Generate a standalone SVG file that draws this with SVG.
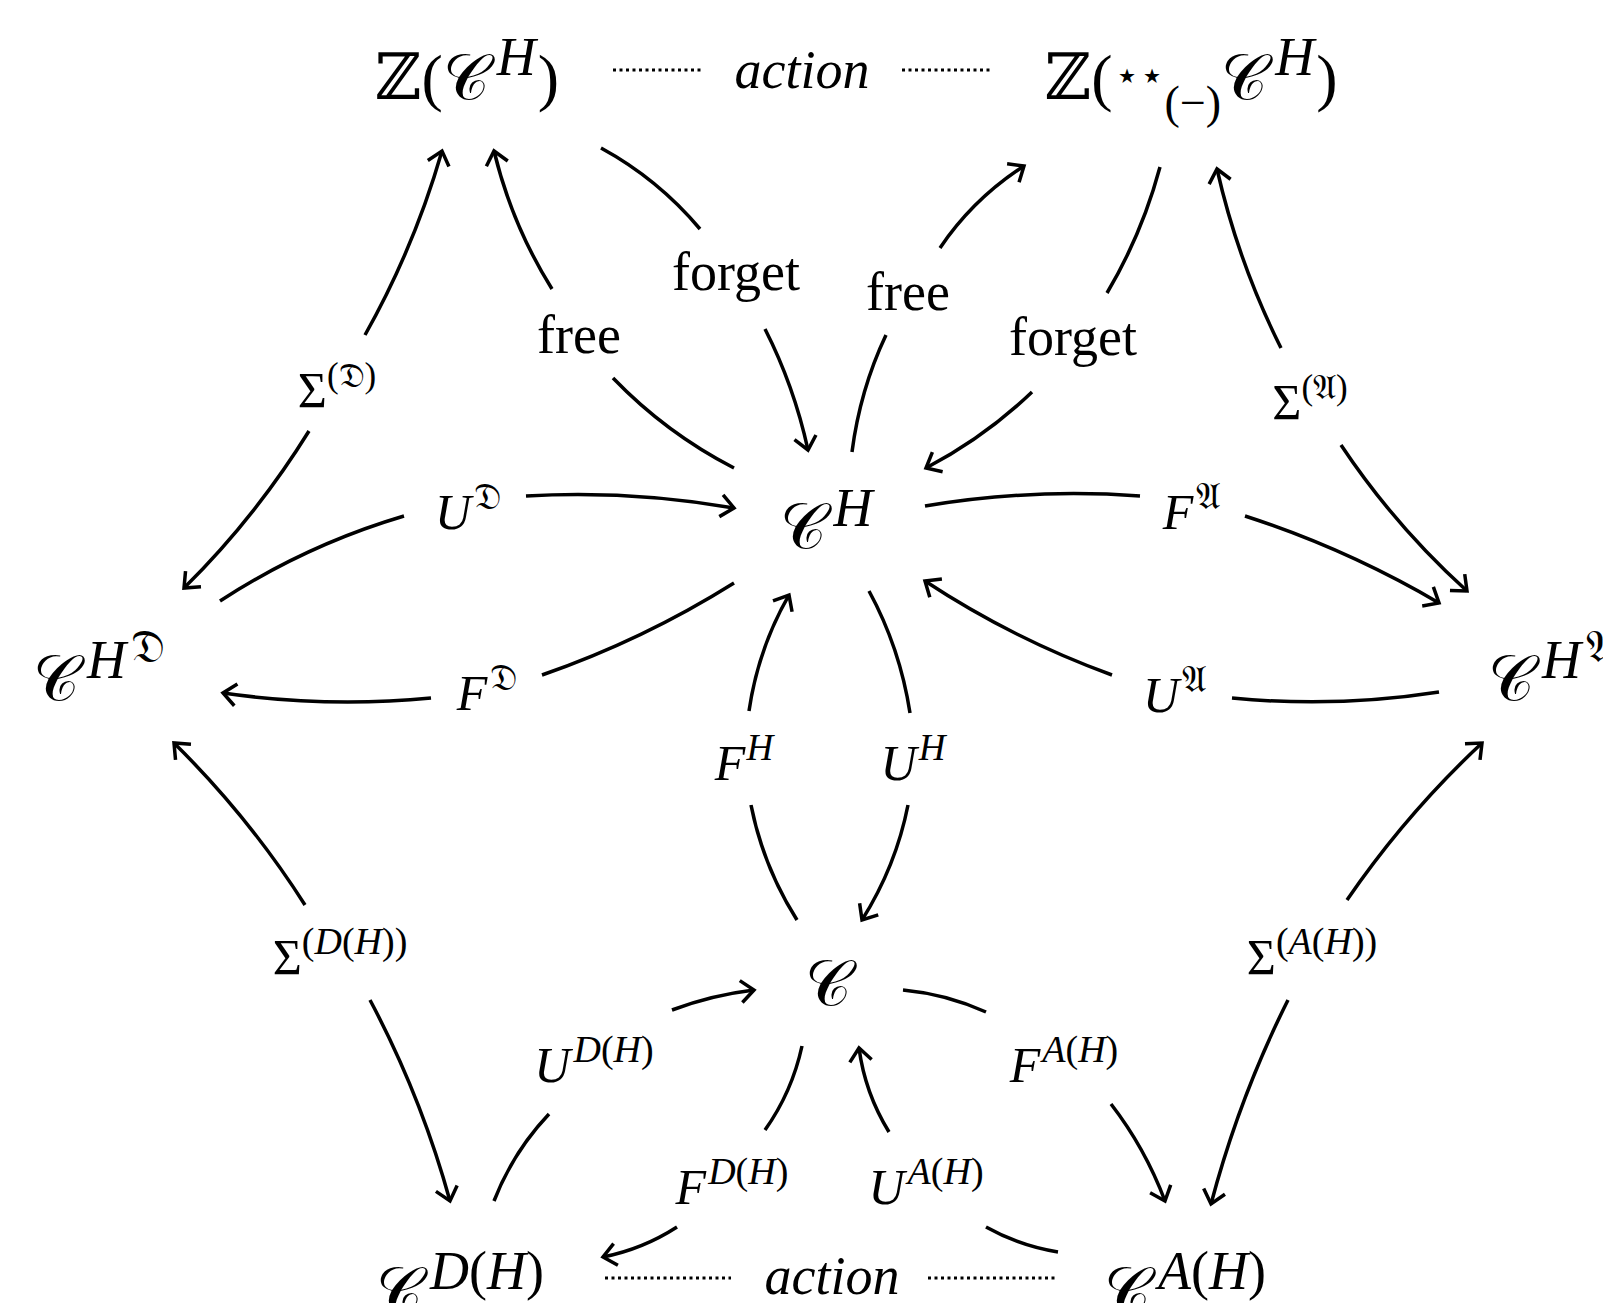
<svg xmlns="http://www.w3.org/2000/svg" width="1603" height="1303" viewBox="0 0 1603 1303">
<style>
text{font-family:"Liberation Serif","DejaVu Serif","DejaVu Sans","Noto Sans",serif;fill:#000}
.n{font-size:64px}
.l{font-size:54px}
.m{font-size:50px}
.i{font-style:italic}
.e{fill:none;stroke:#000;stroke-width:3.5}
.a{marker-end:url(#ah)}
.d{fill:none;stroke:#000;stroke-width:3;stroke-dasharray:3 3.5}
</style>
<defs>
<marker id="ah" viewBox="-16 -15 22 30" markerWidth="22" markerHeight="30" refX="0" refY="0" orient="auto" markerUnits="userSpaceOnUse">
<path d="M-13,-11 L0,0 L-13,11" fill="none" stroke="#000" stroke-width="3.5"/>
</marker>
</defs>
<g id="connectors">
<g id="e-sigmaD"><path class="e a" d="M365,335 Q414,248 442,151"/><path class="e a" d="M309,431 Q255,518 184,588"/>
<text class="m" x="337" y="407" text-anchor="middle" font-size="45">Σ<tspan font-size="35" dy="-20">(𝔇)</tspan></text></g>
<g id="e-free1"><path class="e" d="M734,468 Q666,433 613,378"/><path class="e a" d="M552,289 Q512,225 494,151"/>
<text class="l" x="579" y="353" text-anchor="middle">free</text></g>
<g id="e-forget1"><path class="e" d="M601,148 Q658,179 700,229"/><path class="e a" d="M765,329 Q794,386 808,450"/>
<text class="l" x="736" y="290" text-anchor="middle">forget</text></g>
<g id="e-free2"><path class="e" d="M852,452 Q860,390 886,335"/><path class="e a" d="M940,248 Q973,199 1024,166"/>
<text class="l" x="908" y="310" text-anchor="middle">free</text></g>
<g id="e-forget2"><path class="e" d="M1160,167 Q1142,234 1107,293"/><path class="e a" d="M1032,392 Q985,437 926,468"/>
<text class="l" x="1073" y="355" text-anchor="middle">forget</text></g>
<g id="e-sigmaA"><path class="e a" d="M1281,348 Q1238,262 1217,169"/><path class="e a" d="M1341,445 Q1395,526 1467,591"/>
<text class="m" x="1310" y="419" text-anchor="middle" font-size="45">Σ<tspan font-size="35" dy="-20">(𝔄)</tspan></text></g>
<g id="e-UD"><path class="e" d="M220,601 Q306,545 404,516"/><path class="e a" d="M526,496 Q630,490 734,508"/>
<text class="m" x="468" y="529" text-anchor="middle"><tspan class="i">U</tspan><tspan font-size="37" dx="3" dy="-20">𝔇</tspan></text></g>
<g id="e-FD"><path class="e" d="M734,583 Q643,640 542,675"/><path class="e a" d="M431,698 Q327,708 223,693"/>
<text class="m" x="487" y="710" text-anchor="middle"><tspan class="i">F</tspan><tspan font-size="37" dx="3" dy="-20">𝔇</tspan></text></g>
<g id="e-FA"><path class="e" d="M925,506 Q1032,488 1140,496"/><path class="e a" d="M1245,516 Q1347,549 1439,603"/>
<text class="m" x="1192" y="529" text-anchor="middle"><tspan class="i">F</tspan><tspan font-size="37" dx="3" dy="-20">𝔄</tspan></text></g>
<g id="e-UA"><path class="e" d="M1439,692 Q1336,708 1232,698"/><path class="e a" d="M1112,675 Q1013,639 925,581"/>
<text class="m" x="1175" y="712" text-anchor="middle"><tspan class="i">U</tspan><tspan font-size="37" dx="3" dy="-20">𝔄</tspan></text></g>
<g id="e-FH"><path class="e" d="M797,920 Q763,866 751,805"/><path class="e a" d="M749,711 Q758,649 789,595"/>
<text class="m i" x="744" y="780" text-anchor="middle">F<tspan font-size="37" dx="1" dy="-20">H</tspan></text></g>
<g id="e-UH"><path class="e" d="M869,591 Q900,648 910,713"/><path class="e a" d="M908,805 Q896,866 862,920"/>
<text class="m i" x="913" y="780" text-anchor="middle">U<tspan font-size="37" dx="2" dy="-20">H</tspan></text></g>
<g id="e-sigmaDH"><path class="e a" d="M305,905 Q249,817 174,743"/><path class="e a" d="M370,1000 Q421,1096 450,1201"/>
<text class="m" x="340" y="974" text-anchor="middle" font-size="45">Σ<tspan font-size="38" dy="-20">(<tspan class="i">D</tspan>(<tspan class="i">H</tspan>))</tspan></text></g>
<g id="e-sigmaAH"><path class="e a" d="M1347,900 Q1406,814 1482,743"/><path class="e a" d="M1288,1000 Q1239,1098 1211,1204"/>
<text class="m" x="1312" y="974" text-anchor="middle" font-size="45">Σ<tspan font-size="38" dy="-20">(<tspan class="i">A</tspan>(<tspan class="i">H</tspan>))</tspan></text></g>
<g id="e-UDH"><path class="e" d="M494,1201 Q513,1152 549,1114"/><path class="e a" d="M672,1010 Q712,995 754,990"/>
<text class="m" x="594" y="1082" text-anchor="middle"><tspan class="i">U</tspan><tspan font-size="38" dx="3" dy="-20"><tspan class="i">D</tspan>(<tspan class="i">H</tspan>)</tspan></text></g>
<g id="e-FDH"><path class="e" d="M802,1046 Q792,1092 765,1130"/><path class="e a" d="M677,1227 Q643,1249 603,1257"/>
<text class="m" x="732" y="1204" text-anchor="middle"><tspan class="i">F</tspan><tspan font-size="38" dx="2" dy="-20"><tspan class="i">D</tspan>(<tspan class="i">H</tspan>)</tspan></text></g>
<g id="e-UAH"><path class="e" d="M1058,1252 Q1020,1246 986,1227"/><path class="e a" d="M889,1132 Q865,1093 859,1048"/>
<text class="m" x="926" y="1204" text-anchor="middle"><tspan class="i">U</tspan><tspan font-size="38" dx="3" dy="-20"><tspan class="i">A</tspan>(<tspan class="i">H</tspan>)</tspan></text></g>
<g id="e-FAH"><path class="e" d="M903,990 Q946,994 986,1012"/><path class="e a" d="M1111,1104 Q1145,1148 1165,1201"/>
<text class="m" x="1064" y="1082" text-anchor="middle"><tspan class="i">F</tspan><tspan font-size="38" dx="2" dy="-20"><tspan class="i">A</tspan>(<tspan class="i">H</tspan>)</tspan></text></g>
<g id="e-action-top"><path class="d" d="M613,70 H703 M902,70 H992"/>
<text class="l i" x="802" y="88" text-anchor="middle" font-size="58">action</text></g>
<g id="e-action-bottom"><path class="d" d="M605,1278 H731 M928,1278 H1058"/>
<text class="l i" x="832" y="1294" text-anchor="middle" font-size="58">action</text></g>
</g>
<g id="node-ZCH"><text class="n" x="467" y="99" text-anchor="middle">ℤ(𝒞<tspan class="i" font-size="54" dx="7" dy="-24">H</tspan><tspan dx="2" dy="24">)</tspan></text></g>
<g id="node-ZstarCH"><text class="n" x="1191" y="99" text-anchor="middle">ℤ(<tspan font-size="40" dx="2" dy="-10">⋆⋆</tspan><tspan font-size="46" dy="29">(−)</tspan><tspan dy="-19">𝒞</tspan><tspan class="i" font-size="54" dx="7" dy="-24">H</tspan><tspan dx="2" dy="24">)</tspan></text></g>
<g id="node-CH"><text class="n" x="826" y="548" text-anchor="middle">𝒞<tspan class="i" font-size="54" dx="7" dy="-22">H</tspan></text></g>
<g id="node-CHD"><text class="n" x="33" y="700">𝒞<tspan class="i" font-size="54" dx="7" dy="-22">H</tspan><tspan font-size="46" dx="5" dy="-16">𝔇</tspan></text></g>
<g id="node-CHA"><text class="n" x="1488" y="700">𝒞<tspan class="i" font-size="54" dx="7" dy="-22">H</tspan><tspan font-size="46" dx="5" dy="-16">𝔄</tspan></text></g>
<g id="node-C"><text class="n" x="828" y="1005" text-anchor="middle">𝒞</text></g>
<g id="node-CDH"><text class="n" x="376" y="1312">𝒞<tspan font-size="54" dx="7" dy="-23"><tspan class="i">D</tspan>(<tspan class="i">H</tspan>)</tspan></text></g>
<g id="node-CAH"><text class="n" x="1104" y="1312">𝒞<tspan font-size="54" dx="7" dy="-23"><tspan class="i">A</tspan>(<tspan class="i">H</tspan>)</tspan></text></g>
</svg>
